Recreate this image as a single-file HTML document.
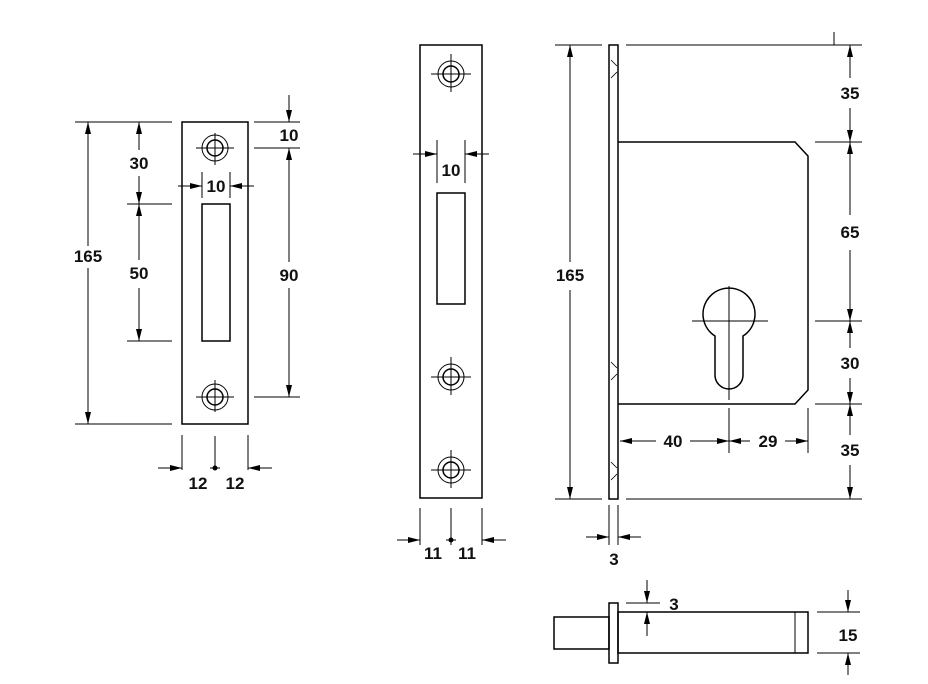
<!DOCTYPE html>
<html><head><style>body{margin:0;background:#fff}svg{display:block}text{font-family:"Liberation Sans",Arial,sans-serif;font-weight:bold;font-size:17px;fill:#111;text-anchor:middle}</style></head>
<body>
<svg width="928" height="684" viewBox="0 0 928 684" xmlns="http://www.w3.org/2000/svg">
<defs>
<marker id="a" viewBox="0 0 12 6" refX="12" refY="3" markerWidth="12" markerHeight="6" markerUnits="userSpaceOnUse" orient="auto"><path d="M0,0L12,3L0,6z" fill="#000"/></marker>
</defs>
<g stroke="#000" fill="none" stroke-width="1">
<rect x="182" y="122" width="66" height="302" stroke-width="1.5"/>
<rect x="202" y="204" width="28" height="137" stroke-width="1.5"/>
<circle cx="215" cy="148" r="13"/><circle cx="215" cy="148" r="8" stroke-width="1.5"/>
<path d="M196 148H234M215 133V165"/>
<circle cx="215" cy="397" r="13"/><circle cx="215" cy="397" r="8" stroke-width="1.5"/>
<path d="M196 397H234M215 380V412"/>
<path d="M75 122H172M75 424H172M127 204H172M127 341H172"/>
<path d="M88 246V122" marker-end="url(#a)"/><path d="M88 268V424" marker-end="url(#a)"/>
<path d="M139 150V122" marker-end="url(#a)"/><path d="M139 176V204" marker-end="url(#a)"/>
<path d="M139 260V204" marker-end="url(#a)"/><path d="M139 288V341" marker-end="url(#a)"/>
<path d="M254 122H300M254 148H300M254 397H300"/>
<path d="M289 95V122" marker-end="url(#a)"/>
<path d="M289 262V148" marker-end="url(#a)"/><path d="M289 288V397" marker-end="url(#a)"/>
<path d="M202 172V198M230 172V198"/>
<path d="M178 186H202" marker-end="url(#a)"/><path d="M254 186H230" marker-end="url(#a)"/>
<path d="M182 435V470M248 435V470M215 436V470"/>
<path d="M158 468H182" marker-end="url(#a)"/><path d="M272 468H248" marker-end="url(#a)"/>
<path d="M210 468H220"/><circle cx="215" cy="468" r="2" fill="#000"/>
<rect x="420" y="45" width="62" height="453" stroke-width="1.5"/>
<rect x="437" y="193" width="28" height="111" stroke-width="1.5"/>
<circle cx="451" cy="74" r="13"/><circle cx="451" cy="74" r="8" stroke-width="1.5"/><path d="M431 74H471M451 54V92"/>
<circle cx="451" cy="377" r="13"/><circle cx="451" cy="377" r="8" stroke-width="1.5"/><path d="M431 377H471M451 357V395"/>
<circle cx="451" cy="470" r="13"/><circle cx="451" cy="470" r="8" stroke-width="1.5"/><path d="M431 470H471M451 450V488"/>
<path d="M437 140V183M465 140V183"/>
<path d="M413 154H437" marker-end="url(#a)"/><path d="M489 154H465" marker-end="url(#a)"/>
<path d="M420 508V545M482 508V545M451 508V545"/>
<path d="M397 540H420" marker-end="url(#a)"/><path d="M506 540H482" marker-end="url(#a)"/>
<path d="M446 540H456"/><circle cx="451" cy="540" r="2" fill="#000"/>
<rect x="609" y="45" width="9" height="454" stroke-width="1.5"/>
<path d="M618 142H795L808 156V390L795 404H618" stroke-width="1.5"/>
<path d="M611 60L617 66M611 78L617 72M611 362L617 368M611 380L617 374M611 462L617 468M611 480L617 474" stroke-width="0.8"/>
<path d="M715 336A26 26 0 1 1 743 336V375A14 14 0 0 1 715 375Z" stroke-width="1.5"/>
<path d="M692 321H768M729 286V400M729 408V453M808 408V453"/>
<path d="M656 441H620" marker-end="url(#a)"/><path d="M690 441H729" marker-end="url(#a)"/>
<path d="M750 441H729" marker-end="url(#a)"/><path d="M785 441H808" marker-end="url(#a)"/>
<path d="M555 45H602M626 45H862M555 499H602M626 499H862M834 32V45"/>
<path d="M570 262V45" marker-end="url(#a)"/><path d="M570 290V499" marker-end="url(#a)"/>
<path d="M815 142H862M815 321H862M815 404H862"/>
<path d="M850 78V45" marker-end="url(#a)"/><path d="M850 108V142" marker-end="url(#a)"/>
<path d="M850 215V142" marker-end="url(#a)"/><path d="M850 250V321" marker-end="url(#a)"/>
<path d="M850 348V321" marker-end="url(#a)"/><path d="M850 378V404" marker-end="url(#a)"/>
<path d="M850 435V404" marker-end="url(#a)"/><path d="M850 465V499" marker-end="url(#a)"/>
<path d="M609 505V545M618 505V545"/>
<path d="M586 537H609" marker-end="url(#a)"/><path d="M641 537H618" marker-end="url(#a)"/>
<rect x="554" y="617" width="55" height="32" stroke-width="1.5"/>
<rect x="609" y="603" width="9" height="60" stroke-width="1.5"/>
<rect x="618" y="612" width="190" height="41" stroke-width="1.5"/>
<path d="M795 612V653"/>
<path d="M626 603H660"/>
<path d="M647 580V603" marker-end="url(#a)"/><path d="M647 636V612" marker-end="url(#a)"/>
<path d="M817 612H860M817 653H860"/>
<path d="M848 590V612" marker-end="url(#a)"/><path d="M848 675V653" marker-end="url(#a)"/>
</g>
<g>
<text x="88" y="262">165</text><text x="139" y="169">30</text><text x="139" y="279">50</text>
<text x="289" y="141">10</text><text x="289" y="281">90</text><text x="216" y="192">10</text>
<text x="198" y="489">12</text><text x="235" y="489">12</text>
<text x="451" y="176">10</text><text x="433" y="559">11</text><text x="467" y="559">11</text>
<text x="570" y="281">165</text>
<text x="850" y="99">35</text><text x="850" y="238">65</text><text x="850" y="369">30</text><text x="850" y="456">35</text>
<text x="673" y="447">40</text><text x="768" y="447">29</text><text x="614" y="565">3</text>
<text x="674" y="610">3</text><text x="848" y="641">15</text>
</g>
</svg>
</body></html>
